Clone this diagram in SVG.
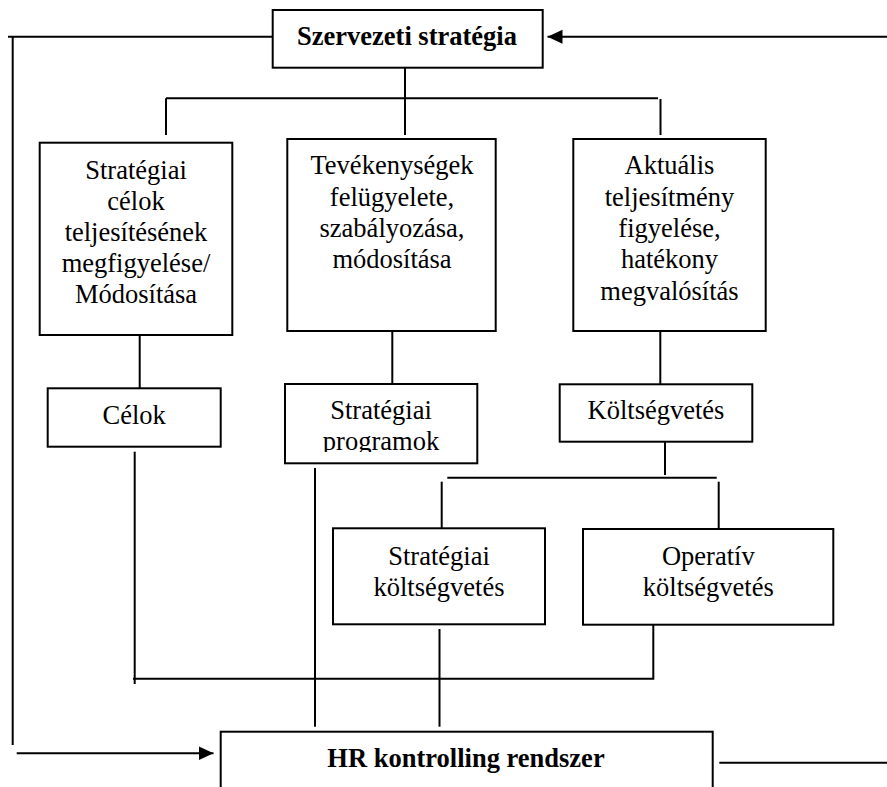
<svg xmlns="http://www.w3.org/2000/svg" width="887" height="787" viewBox="0 0 887 787">
  <style>
    .box { fill: #fff; stroke: #000; stroke-width: 2; }
    .ln { fill: none; stroke: #000; stroke-width: 2; }
    .t { font-family: "Liberation Serif", "Times New Roman", serif; font-size: 26.5px; fill: #000; text-anchor: middle; }
    .b { font-weight: bold; }
  </style>
  <defs>
    <marker id="arrow" markerUnits="userSpaceOnUse" markerWidth="16" markerHeight="16" viewBox="0 0 16 16" refX="15" refY="8" orient="auto">
      <path d="M0,1 L15,8 L0,15 Z" fill="#000"/>
    </marker>
    <clipPath id="progClip">
      <rect x="285" y="384" width="193" height="68"/>
    </clipPath>
  </defs>
  <rect width="887" height="787" fill="#fff"/>

  <g id="connectors">
    <!-- feedback loop on the left -->
    <path class="ln" d="M8,36.7 H272"/>
    <path class="ln" d="M12.7,36 V745"/>
    <path class="ln" d="M16.7,753.3 H213.5" marker-end="url(#arrow)"/>
    <!-- feedback loop on the right -->
    <path class="ln" d="M887,36.7 H547.5" marker-end="url(#arrow)"/>
    <path class="ln" d="M719.3,762.7 H887"/>
    <!-- strategy to the three monitoring boxes -->
    <path class="ln" d="M405,68 V135"/>
    <path class="ln" d="M166,98.3 H658"/>
    <path class="ln" d="M166,98.3 V135"/>
    <path class="ln" d="M660.5,99 V135"/>
    <!-- monitoring boxes to the lower boxes -->
    <path class="ln" d="M139.7,335 V388"/>
    <path class="ln" d="M392.3,331 V384"/>
    <path class="ln" d="M660.3,331 V384"/>
    <!-- budget split -->
    <path class="ln" d="M665,438 V475"/>
    <path class="ln" d="M447.3,477.7 H716.7"/>
    <path class="ln" d="M441.7,481.7 V528"/>
    <path class="ln" d="M718.7,481.7 V529"/>
    <!-- into the HR system -->
    <path class="ln" d="M134.7,451.7 V684"/>
    <path class="ln" d="M653.3,624.7 V678.7 H133"/>
    <path class="ln" d="M439.5,629 V726.7"/>
    <path class="ln" d="M315,468 V726.7"/>
  </g>

  <g id="szervezeti-strategia">
    <rect class="box" x="272.7" y="10" width="270" height="57.7"/>
    <text class="t b" x="407" y="45">Szervezeti stratégia</text>
  </g>

  <g id="strategiai-celok">
    <rect class="box" x="39.7" y="142.7" width="192.6" height="192.3"/>
    <text class="t" x="136" y="179">Stratégiai</text>
    <text class="t" x="136" y="210">célok</text>
    <text class="t" x="136" y="241">teljesítésének</text>
    <text class="t" x="136" y="272">megfigyelése/</text>
    <text class="t" x="136" y="303">Módosítása</text>
  </g>

  <g id="tevekenysegek">
    <rect class="box" x="287.3" y="139" width="208.4" height="192"/>
    <text class="t" x="392" y="174">Tevékenységek</text>
    <text class="t" x="392" y="206">felügyelete,</text>
    <text class="t" x="392" y="237">szabályozása,</text>
    <text class="t" x="392" y="268">módosítása</text>
  </g>

  <g id="aktualis-teljesitmeny">
    <rect class="box" x="573.3" y="139" width="192.4" height="192"/>
    <text class="t" x="669.5" y="174">Aktuális</text>
    <text class="t" x="669.5" y="206">teljesítmény</text>
    <text class="t" x="669.5" y="237">figyelése,</text>
    <text class="t" x="669.5" y="268">hatékony</text>
    <text class="t" x="669.5" y="300">megvalósítás</text>
  </g>

  <g id="celok">
    <rect class="box" x="47.7" y="388.3" width="173" height="58.4"/>
    <text class="t" x="134.2" y="424">Célok</text>
  </g>

  <g id="strategiai-programok">
    <rect class="box" x="285" y="384" width="192.3" height="79.3"/>
    <g clip-path="url(#progClip)">
      <text class="t" x="381" y="419">Stratégiai</text>
      <text class="t" x="381" y="450">programok</text>
    </g>
  </g>

  <g id="koltsegvetes">
    <rect class="box" x="559.7" y="384.3" width="192.6" height="57.4"/>
    <text class="t" x="656" y="419">Költségvetés</text>
  </g>

  <g id="strategiai-koltsegvetes">
    <rect class="box" x="333" y="528.3" width="212" height="96"/>
    <text class="t" x="439" y="565">Stratégiai</text>
    <text class="t" x="439" y="596">költségvetés</text>
  </g>

  <g id="operativ-koltsegvetes">
    <rect class="box" x="583" y="529" width="250.3" height="95.7"/>
    <text class="t" x="708.3" y="565">Operatív</text>
    <text class="t" x="708.3" y="596">költségvetés</text>
  </g>

  <g id="hr-kontrolling">
    <rect class="box" x="220.7" y="731.7" width="492" height="80"/>
    <text class="t b" x="466" y="767">HR kontrolling rendszer</text>
  </g>
</svg>
